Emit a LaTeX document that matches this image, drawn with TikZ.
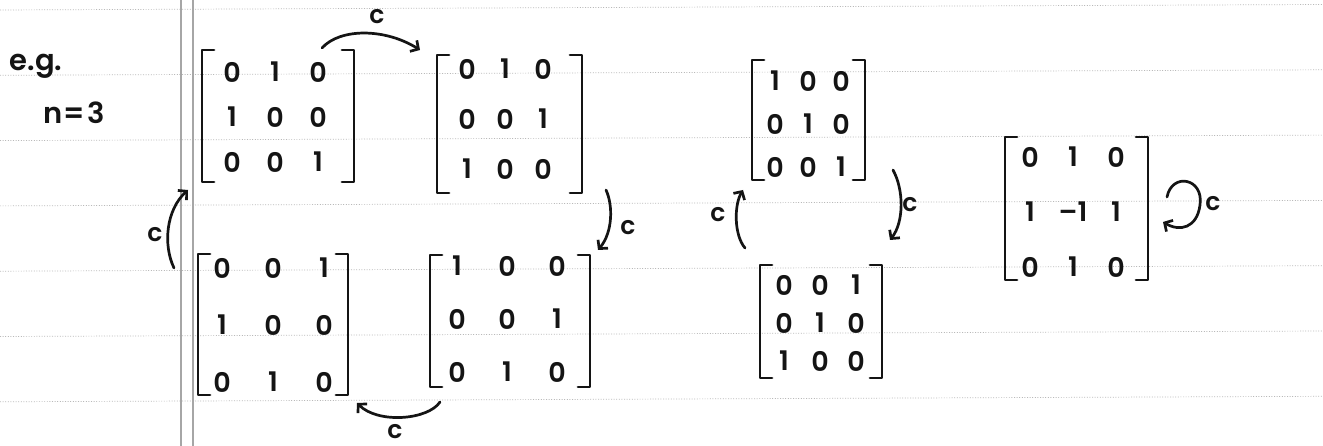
\documentclass[tikz,border=0pt]{standalone}
\usepackage{fontspec}
\setmainfont{Poppins}
\newfontfamily\hand{Poppins}[UprightFont={* SemiBold}]
\usetikzlibrary{matrix,arrows.meta}

\tikzset{
  ink/.style={line width=2.7pt, line cap=round, line join=round, draw=black!92},
  arr/.style={ink, -{Straight Barb[length=6pt,width=13pt]}},
  rule/.style={gray!55, line width=0.7pt, dash pattern=on 1pt off 1.6pt},
  margin/.style={gray!70, line width=1.4pt},
  note/.style={inner sep=0pt, text=black!92, font=\hand\fontsize{29}{29}\selectfont},
  lbl/.style={inner sep=0pt, text=black!92, font=\hand\fontsize{25}{25}\selectfont},
  mat/.style={matrix of nodes, inner sep=0pt,
    nodes={anchor=center, inner sep=0pt, text=black!92, font=\hand\fontsize{27}{27}\selectfont}},
}

% square brackets round matrix #1: left, right, top, bottom distances from its centre
\newcommand\mbrackets[5]{%
  \draw[ink] ([shift={(-#2+12,-#4)}]#1.center) -- ++(-12,0) -- ++(0,#4+#5) -- ++(12,0);
  \draw[ink] ([shift={(#3-12,-#4)}]#1.center) -- ++(12,0) -- ++(0,#4+#5) -- ++(-12,0);
}

\begin{document}
\begin{tikzpicture}[x=1pt,y=-1pt]
\useasboundingbox[fill=white] (0,0) rectangle (1323,446);

% ruled notebook paper with a double margin line
\foreach \k in {0,...,6}
  \draw[rule] (0,{10+65.3*\k}) -- (1323,{4.5+65.3*\k});
\draw[margin] (181,0) -- (181,446);
\draw[margin] (193,0) -- (193,446);

\node[note] (eg) at (36,66) {e.g.};
\node[note] (n3) at (74,113) {n\kern1pt=\kern2pt3};

% the permutation matrices
\matrix[mat, nodes={minimum width=43pt, minimum height=45pt}] (A) at (275,117)
  { 0 & 1 & 0 \\ 1 & 0 & 0 \\ 0 & 0 & 1 \\ };
\matrix[mat, nodes={minimum width=38pt, minimum height=50pt}] (B) at (505,119)
  { 0 & 1 & 0 \\ 0 & 0 & 1 \\ 1 & 0 & 0 \\ };
\matrix[mat, nodes={minimum width=50pt, minimum height=53pt}] (C) at (507,319)
  { 1 & 0 & 0 \\ 0 & 0 & 1 \\ 0 & 1 & 0 \\ };
\matrix[mat, nodes={minimum width=51pt, minimum height=57pt}] (D) at (273,325)
  { 0 & 0 & 1 \\ 1 & 0 & 0 \\ 0 & 1 & 0 \\ };
\matrix[mat, nodes={minimum width=33pt, minimum height=43pt}] (E) at (808,124)
  { 1 & 0 & 0 \\ 0 & 1 & 0 \\ 0 & 0 & 1 \\ };
\matrix[mat, nodes={minimum width=36pt, minimum height=38pt}] (F) at (820,323)
  { 0 & 0 & 1 \\ 0 & 1 & 0 \\ 1 & 0 & 0 \\ };
\matrix[mat, nodes={minimum width=43pt, minimum height=55pt}] (G) at (1073,212)
  { 0 & 1 & 0 \\ 1 & \textendash1 & 1 \\ 0 & 1 & 0 \\ };

\mbrackets{A}{73}{79}{67}{65}
\mbrackets{B}{68}{77}{64}{74}
\mbrackets{C}{77}{83}{64}{68}
\mbrackets{D}{75}{75}{71}{70}
\mbrackets{E}{56}{57}{64}{56}
\mbrackets{F}{60}{62}{58}{55}
\mbrackets{G}{68}{75}{75}{68}

% ends of the arrows
\coordinate (A-out) at (322,48);
\coordinate (B-in)  at (420,50);
\coordinate (B-out) at (606,190);
\coordinate (C-in)  at (598,250);
\coordinate (C-out) at (440,402);
\coordinate (D-in)  at (357,403);
\coordinate (D-out) at (174,268);
\coordinate (A-in)  at (188,190);
\coordinate (E-out) at (893,170);
\coordinate (F-in)  at (890,240);
\coordinate (F-out) at (745,248);
\coordinate (E-in)  at (743,190);
\coordinate (G-out) at (1167,197);
\coordinate (G-in)  at (1163,222);

% the map c
\draw[arr] (A-out) .. controls (340,28) and (385,28) .. (B-in);
\draw[arr] (B-out) .. controls (613,205) and (613,232) .. (C-in);
\draw[arr] (C-out) .. controls (428,420) and (378,424) .. (D-in);
\draw[arr] (D-out) .. controls (163,245) and (166,210) .. (A-in);
\draw[arr] (E-out) .. controls (904,190) and (904,222) .. (F-in);
\draw[arr] (F-out) .. controls (734,235) and (734,205) .. (E-in);
\draw[arr] (G-out) .. controls (1172,172) and (1204,178) .. (1200,205)
                   .. controls (1197,228) and (1180,232) .. (G-in);

\node[lbl] (cAB) at (377,17)   {c};
\node[lbl] (cBC) at (628,228)  {c};
\node[lbl] (cCD) at (395,432)  {c};
\node[lbl] (cDA) at (155,235)  {c};
\node[lbl] (cEF) at (910,205)  {c};
\node[lbl] (cFE) at (718,215)  {c};
\node[lbl] (cGG) at (1213,204) {c};
\end{tikzpicture}
\end{document}
